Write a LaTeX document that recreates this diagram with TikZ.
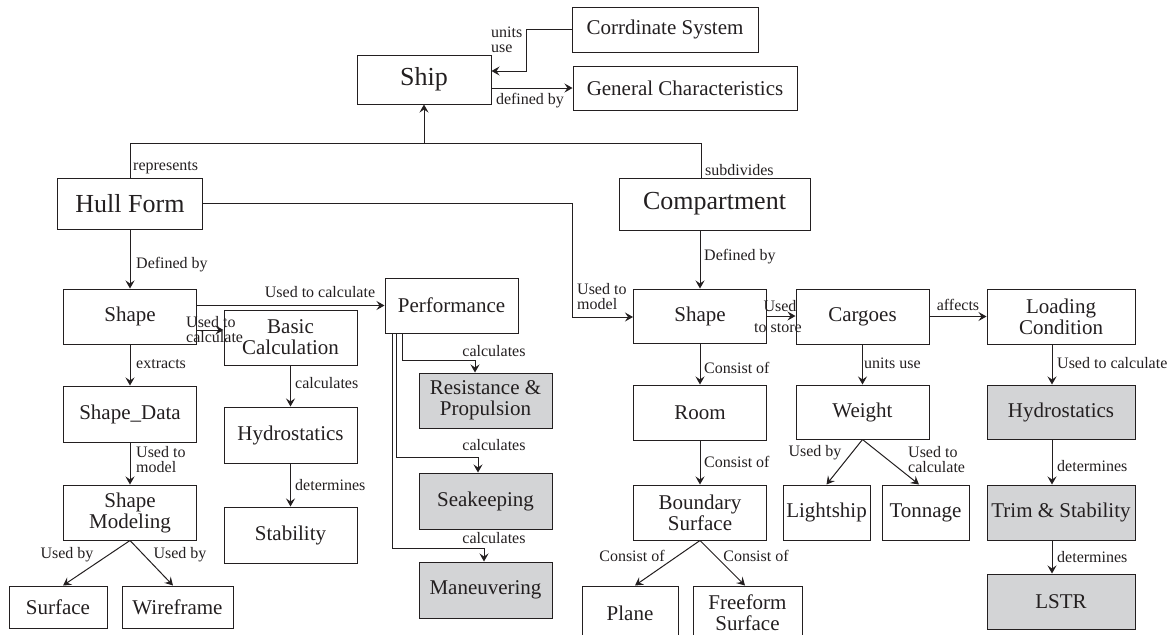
\documentclass[tikz,border=0pt]{standalone}
\usepackage{fontspec}
\setmainfont{Liberation Serif}
\usetikzlibrary{arrows.meta}
\definecolor{ink}{RGB}{35,31,32}
\definecolor{shade}{RGB}{211,212,214}
\begin{document}
\begin{tikzpicture}[x=1pt,y=-1pt,
  box/.style={draw=ink, line width=1pt, inner sep=0pt, align=center, text=ink,
    font=\fontsize{21}{21}\selectfont},
  big/.style={box, font=\fontsize{26}{26}\selectfont},
  result/.style={box, fill=shade},
  sz/.style 2 args={minimum width=#1pt, minimum height=#2pt},
  lbl/.style={inner sep=0pt, align=left, text=ink, font=\fontsize{16}{15}\selectfont},
  link/.style={draw=ink, line width=1pt},
  arr/.style={link, -{Stealth[length=8pt,width=9pt,inset=3pt]}}
]
\useasboundingbox (0,0) rectangle (1171,635);

% ---------- top level ----------
\node[big, sz={134}{49}] (ship) at (424,79.5) {Ship};
\node[box, sz={186}{45}] (coord) at (665,29.5) {Corrdinate System};
\node[box, sz={224}{44}] (gen) at (685,88) {General Characteristics};
\node[big, sz={145}{51}] (hull) at (130,203.5) {Hull Form};
\node[big, sz={191}{52}] (comp) at (714.5,204) {Compartment};

% ---------- hull form branch ----------
\node[box, sz={133}{55}] (shapeL) at (130,316.5) {Shape};
\node[box, sz={133}{56}] (sdata) at (130,414) {Shape\_Data};
\node[box, sz={133}{55}] (smod) at (130,512.5) {Shape\\Modeling};
\node[box, sz={98}{42}] (surf) at (58,607) {Surface};
\node[box, sz={111}{42}] (wire) at (177.5,607) {Wireframe};
\node[box, sz={133}{55}] (basic) at (290.5,337.5) {Basic\\Calculation};
\node[box, sz={133}{56}] (hydroL) at (290.5,435) {Hydrostatics};
\node[box, sz={133}{56}] (stab) at (290.5,535) {Stability};
\node[box, sz={133}{55}] (perf) at (451.5,305.5) {Performance};
\node[result, sz={133}{55}] (resist) at (485.5,400.5) {Resistance \&\\Propulsion};
\node[result, sz={133}{56}] (seak) at (485.5,501) {Seakeeping};
\node[result, sz={133}{56}] (manv) at (485.5,590) {Maneuvering};

% ---------- compartment branch ----------
\node[box, sz={133}{54}] (shapeR) at (700,316) {Shape};
\node[box, sz={133}{55}] (room) at (700,412.5) {Room};
\node[box, sz={133}{55}] (bound) at (700,512.5) {Boundary\\Surface};
\node[box, sz={96}{54}] (plane) at (630,613) {Plane};
\node[box, sz={109}{54}] (free) at (747.5,613) {Freeform\\Surface};
\node[box, sz={133}{55}] (cargo) at (862.5,316.5) {Cargoes};
\node[box, sz={133}{54}] (weight) at (862.5,412) {Weight};
\node[box, sz={87}{55}] (light) at (826.5,512.5) {Lightship};
\node[box, sz={87}{55}] (ton) at (925.5,512.5) {Tonnage};
\node[box, sz={148}{55}] (load) at (1061,316.5) {Loading\\Condition};
\node[result, sz={148}{54}] (hydroR) at (1061,412) {Hydrostatics};
\node[result, sz={148}{55}] (trim) at (1061,512.5) {Trim \& Stability};
\node[result, sz={148}{55}] (lstr) at (1061,601.5) {LSTR};

% ---------- routing points ----------
\coordinate (csbend) at (526,71);
\coordinate (busR) at (701,143);
\coordinate (hbend) at (572,317);
\coordinate (sbc) at (224,330);
\coordinate (k1) at (475,360);
\coordinate (k2) at (478,457);
\coordinate (k3) at (484,548);
\coordinate (rcol) at (1052,0);

% ---------- connectors: top ----------
\draw[arr] (coord.west) -| (csbend) -- (ship.east |- csbend);
\node[lbl, anchor=north west] at (491,27) {units\\use};
\draw[arr] (ship.east |- gen.west) -- (gen.west);
\node[lbl] at (530,101) {defined by};
\draw[link] (hull.north) |- (busR) -- (comp.north -| busR);
\draw[arr] (ship.south |- busR) -- (ship.south);
\node[lbl, anchor=west] at (133,168) {represents};
\node[lbl, anchor=west] at (705,170) {subdivides};

% ---------- connectors: hull form ----------
\draw[arr] (hull.south) -- (shapeL.north);
\node[lbl, anchor=west] at (136,265) {Defined by};
\draw[arr] (hull.east) -| (hbend) -- (shapeR.west |- hbend);
\node[lbl, anchor=west] at (577,297) {Used to\\model};
\draw[arr] (shapeL.east |- perf.west) -- (perf.west);
\node[lbl] at (320,292) {Used to calculate};
\draw[arr] (shapeL.east |- sbc) -- (basic.west |- sbc);
\node[lbl, anchor=west] at (186,330) {Used to\\calculate};
\draw[arr] (basic.south) -- (hydroL.north);
\node[lbl, anchor=west] at (295,383) {calculates};
\draw[arr] (hydroL.south) -- (stab.north);
\node[lbl, anchor=west] at (295,485) {determines};
\draw[arr] (shapeL.south) -- (sdata.north);
\node[lbl, anchor=west] at (136,364) {extracts};
\draw[arr] (sdata.south) -- (smod.north);
\node[lbl, anchor=west] at (136,460) {Used to\\model};
\draw[arr] (smod.south) -- ([xshift=5pt]surf.north);
\node[lbl] at (67,555) {Used by};
\draw[arr] (smod.south) -- ([xshift=-4.5pt]wire.north);
\node[lbl] at (180,555) {Used by};

% performance fans out to three results
\draw[arr] ([xshift=-49.5pt]perf.south) |- (k1) -- (resist.north -| k1);
\node[lbl] at (494,351) {calculates};
\draw[arr] ([xshift=-55.5pt]perf.south) |- (k2) -- (seak.north -| k2);
\node[lbl] at (494,445) {calculates};
\draw[arr] ([xshift=-59.5pt]perf.south) |- (k3) -- (manv.north -| k3);
\node[lbl] at (494,538) {calculates};

% ---------- connectors: compartment ----------
\draw[arr] (comp.south -| shapeR.north) -- (shapeR.north);
\node[lbl, anchor=west] at (704,257) {Defined by};
\draw[arr] (shapeR.south) -- (room.north);
\node[lbl, anchor=west] at (704,368) {Consist of};
\draw[arr] (room.south) -- (bound.north);
\node[lbl, anchor=west] at (704,462) {Consist of};
\draw[arr] (bound.south) -- ([xshift=5pt]plane.north);
\node[lbl] at (632,556) {Consist of};
\draw[arr] (bound.south) -- ([xshift=-2.5pt]free.north);
\node[lbl] at (756,556) {Consist of};

\draw[arr] (shapeR.east) -- (shapeR.east -| cargo.west);
\node[lbl] at (780,306) {Used};
\node[lbl] at (778,328) {to store};
\draw[arr] (cargo.east) -- (cargo.east -| load.west);
\node[lbl] at (958,305) {affects};
\draw[arr] (cargo.south) -- (weight.north);
\node[lbl, anchor=west] at (864,363) {units use};
\draw[arr] (weight.south) -- (light.north);
\node[lbl] at (815,453) {Used by};
\draw[arr] (weight.south) -- ([xshift=-6.5pt]ton.north);
\node[lbl, anchor=west] at (908,460) {Used to\\calculate};

\draw[arr] (load.south -| rcol) -- (hydroR.north -| rcol);
\node[lbl, anchor=west] at (1057,363) {Used to calculate};
\draw[arr] (hydroR.south -| rcol) -- (trim.north -| rcol);
\node[lbl, anchor=west] at (1057,466) {determines};
\draw[arr] (trim.south -| rcol) -- (lstr.north -| rcol);
\node[lbl, anchor=west] at (1057,557) {determines};
\end{tikzpicture}
\end{document}
